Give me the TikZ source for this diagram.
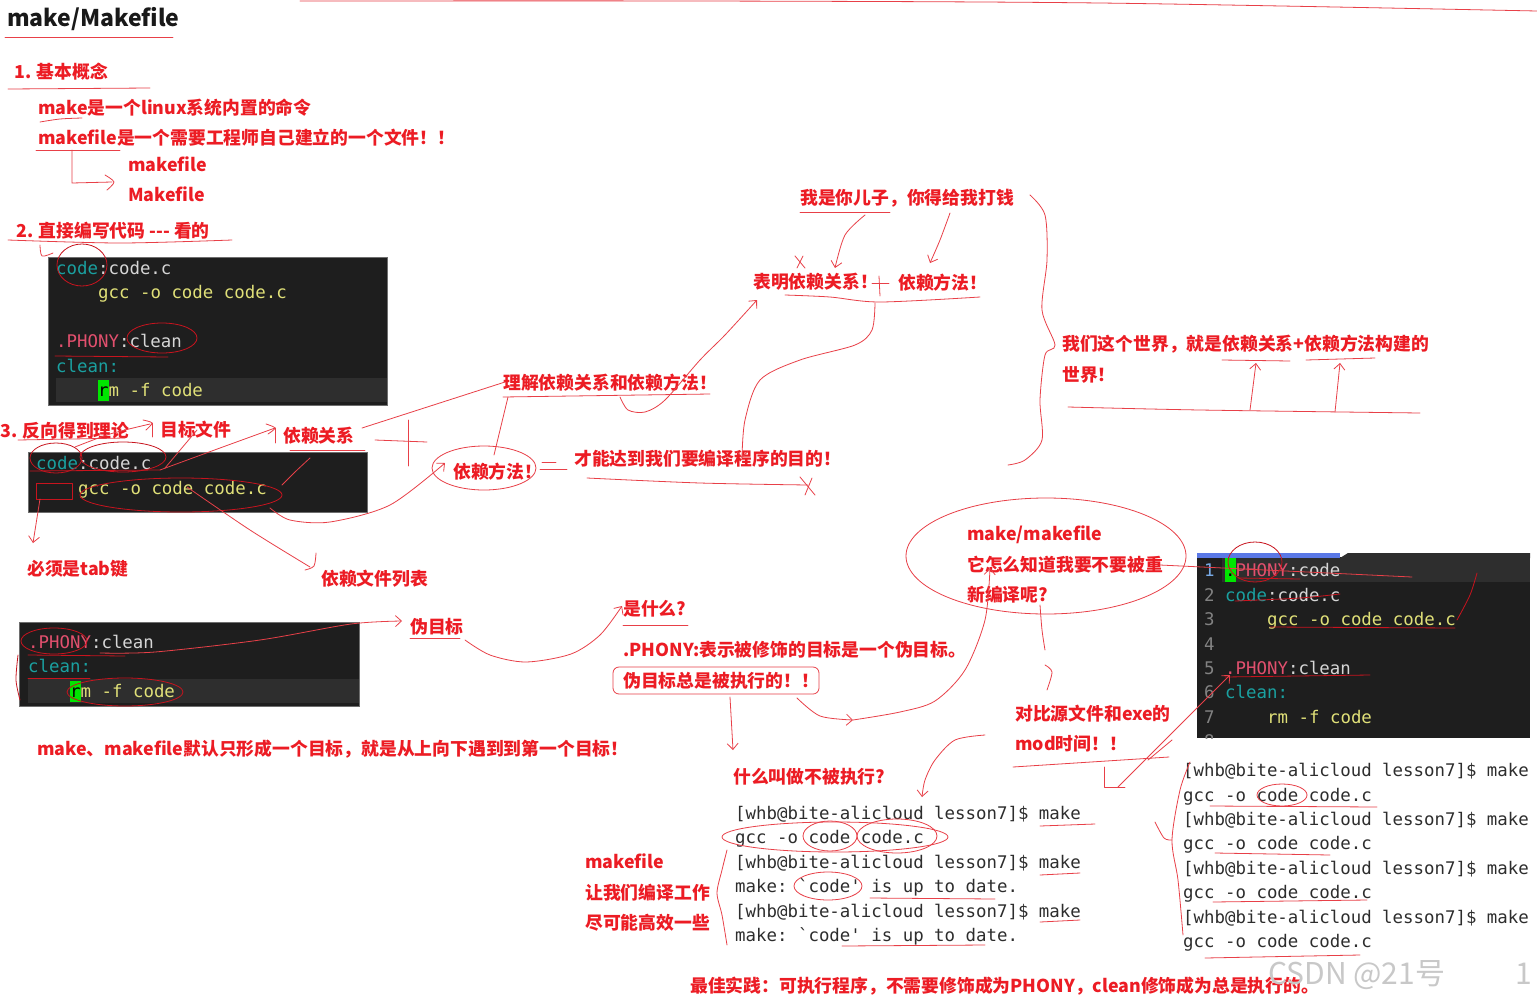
\documentclass[tikz,border=0pt]{standalone}
\usepackage{fontspec}
\setmainfont{Noto Sans CJK SC}
\setmonofont{DejaVu Sans Mono}
\newfontfamily\wmfont{Noto Sans CJK SC}
\usetikzlibrary{arrows.meta}
\definecolor{tred}{RGB}{236,28,36}
\definecolor{ink}{RGB}{232,64,72}
\definecolor{dink}{RGB}{200,20,30}
\definecolor{cbg}{RGB}{30,30,30}
\definecolor{chl}{RGB}{46,46,46}
\definecolor{cteal}{RGB}{26,160,160}
\definecolor{cwhite}{RGB}{214,214,214}
\definecolor{cyel}{RGB}{224,224,120}
\definecolor{cpink}{RGB}{226,80,110}
\definecolor{cgreen}{RGB}{0,230,0}
\definecolor{tgray}{RGB}{45,45,45}
\definecolor{lnum}{RGB}{130,130,130}
\definecolor{lnumone}{RGB}{120,170,230}
\definecolor{tabblue}{RGB}{90,120,230}
\definecolor{wmgray}{RGB}{200,200,200}
\begin{document}
\begin{tikzpicture}[x=1pt,y=-1pt,
 rt/.style={anchor=base west, inner sep=0pt, text=tred, font=\bfseries\fontsize{17.8}{20}\selectfont},
 ct/.style={anchor=base west, inner sep=0pt, font=\ttfamily\fontsize{17.4}{20}\selectfont},
 tt/.style={ct, text=tgray},
 an/.style={draw=ink, line width=0.8pt, line cap=round, line join=round},
 ar/.style={an, -{Straight Barb[length=6pt,width=11pt]}},
 cbox/.style={fill=cbg, draw={rgb,255:red,110;green,110;blue,110}, line width=0.6pt},
 hl/.style={fill=chl, draw=none},
 cur/.style={fill=cgreen, draw=none}]
\useasboundingbox (0,0) rectangle (1537,999);
\fill[white] (0,0) rectangle (1537,999);

% ---------------- texts: section 1
\node[anchor=base west, inner sep=0pt, text={rgb,255:red,25;green,25;blue,25}, font=\bfseries\fontsize{23}{27}\selectfont] (title) at (7,26) {make/Makefile};
\node[rt] (s1) at (14,78) {1. 基本概念};
\node[rt] (s1a) at (38,114) {make是一个linux系统内置的命令};
\node[rt] (s1b) at (38,144) {makefile是一个需要工程师自己建立的一个文件！！};
\node[rt] (s1c) at (128,171) {makefile};
\node[rt] (s1d) at (128,201) {Makefile};
\node[rt] (s2) at (16,237) {2. 直接编写代码 -\kern0pt-\kern0pt- 看的};

% ---------------- code box 1
\draw[cbox] (48,257) rectangle (387,405);
\fill[chl] (56,378) rectangle (387,402);
\node[ct] (b1l1) at (56,274) {\color{cteal}code\color{cwhite}:code.c};
\node[ct, text=cyel] (b1l2) at (98,298) {gcc -o code code.c};
\node[ct] (b1l4) at (56,347) {\color{cpink}.PHONY\color{cwhite}:clean};
\node[ct, text=cteal] (b1l5) at (56,372) {clean:};
\fill[cur] (98,380) rectangle (108.5,401);
\node[ct, text=cyel] (b1l6) at (98,396) {\color{black}r\color{cyel}m -f code};

% ---------------- section 3
\node[rt] (s3) at (0,437) {3. 反向得到理论};
\node[rt] (mb) at (160,436) {目标文件};
\node[rt] (yl) at (283,442) {依赖关系};
\draw[cbox] (28,452) rectangle (367,512);
\node[ct] (b2l1) at (36,469) {\color{cteal}code\color{cwhite}:code.c};
\node[ct, text=cyel] (b2l2) at (78,494) {gcc -o code code.c};
\node[rt] (tab) at (27,575) {必须是tab键};
\node[rt] (ylist) at (321,585) {依赖文件列表};

% ---------------- code box 3
\draw[cbox] (19,622) rectangle (359,706);
\fill[chl] (28,679) rectangle (359,703);
\node[ct] (b3l1) at (28,648) {\color{cpink}.PHONY\color{cwhite}:clean};
\node[ct, text=cteal] (b3l2) at (28,672) {clean:};
\fill[cur] (70,681) rectangle (80.5,702);
\node[ct, text=cyel] (b3l3) at (70,697) {\color{black}r\color{cyel}m -f code};
\node[rt] (wmb) at (410,633) {伪目标};
\node[rt] (def) at (37,755) {make、makefile默认只形成一个目标，就是从上向下遇到到第一个目标！};

% ---------------- middle texts
\node[rt] (lj) at (503,389) {理解依赖关系和依赖方法！};
\node[rt] (son) at (800,204) {我是你儿子，你得给我打钱};
\node[rt] (bm) at (753,288) {表明依赖关系！};
\node[rt] (yf) at (898,289) {依赖方法！};
\node[rt] (yf2) at (453,478) {依赖方法！};
\node[rt] (cn) at (574,465) {才能达到我们要编译程序的目的！};
\node[rt] (world1) at (1062,350) {我们这个世界，就是依赖关系+依赖方法构建的};
\node[rt] (world2) at (1062,381) {世界！};
\node[rt] (what) at (623,615) {是什么?};
\node[rt] (ph) at (623,656) {.PHONY:表示被修饰的目标是一个伪目标。};
\node[rt] (always) at (623,687) {伪目标总是被执行的！！};
\node[rt] (q1) at (967,540) {make/makefile};
\node[rt] (q2) at (967,571) {它怎么知道我要不要被重};
\node[rt] (q3) at (967,601) {新编译呢?};
\node[rt] (cmp1) at (1015,720) {对比源文件和exe的};
\node[rt] (cmp2) at (1015,750) {mod时间！！};
\node[rt] (notex) at (733,783) {什么叫做不被执行?};
\node[rt] (mk1) at (585,868) {makefile};
\node[rt] (mk2) at (585,899) {让我们编译工作};
\node[rt] (mk3) at (585,929) {尽可能高效一些};
\node[rt] (best) at (690,992) {最佳实践：可执行程序，不需要修饰成为PHONY，clean修饰成为总是执行的。};

% ---------------- terminal 1
\node[tt] (t1a) at (735,819) {[whb@bite-alicloud lesson7]\$ make};
\node[tt] (t1b) at (735,843) {gcc -o code code.c};
\node[tt] (t1c) at (735,868) {[whb@bite-alicloud lesson7]\$ make};
\node[tt] (t1d) at (735,892) {make: `code' is up to date.};
\node[tt] (t1e) at (735,917) {[whb@bite-alicloud lesson7]\$ make};
\node[tt] (t1f) at (735,941) {make: `code' is up to date.};

% ---------------- terminal 2
\node[tt] (t2a) at (1183,776) {[whb@bite-alicloud lesson7]\$ make};
\node[tt] (t2b) at (1183,801) {gcc -o code code.c};
\node[tt] (t2c) at (1183,825) {[whb@bite-alicloud lesson7]\$ make};
\node[tt] (t2d) at (1183,849) {gcc -o code code.c};
\node[tt] (t2e) at (1183,874) {[whb@bite-alicloud lesson7]\$ make};
\node[tt] (t2f) at (1183,898) {gcc -o code code.c};
\node[tt] (t2g) at (1183,923) {[whb@bite-alicloud lesson7]\$ make};
\node[tt] (t2h) at (1183,947) {gcc -o code code.c};

% ---------------- code box 4
\fill[cbg] (1197,557) rectangle (1530,738);
\fill[tabblue] (1197,553) rectangle (1340,558);
\fill[chl] (1340,558) -- (1348,553) -- (1530,553) -- (1530,558) -- cycle;
\fill[chl] (1222,558) rectangle (1530,582);
\fill[cur] (1225,558) rectangle (1235.5,582);
\node[ct, text=lnumone] (n1) at (1204,576) {1};
\node[ct, text=lnum] (n2) at (1204,601) {2};
\node[ct, text=lnum] (n3) at (1204,625) {3};
\node[ct, text=lnum] (n4) at (1204,650) {4};
\node[ct, text=lnum] (n5) at (1204,674) {5};
\node[ct, text=lnum] (n6) at (1204,698) {6};
\node[ct, text=lnum] (n7) at (1204,723) {7};
\begin{scope}
\clip (1197,557) rectangle (1530,738);
\node[ct, text=lnum] (n8) at (1204,747) {8};
\end{scope}
\node[ct] (c1) at (1225,576) {\color{black}.\color{cpink}PHONY\color{cwhite}:code};
\node[ct] (c2) at (1225,601) {\color{cteal}code\color{cwhite}:code.c};
\node[ct, text=cyel] (c3) at (1267,625) {gcc -o code code.c};
\node[ct] (c5) at (1225,674) {\color{cpink}.PHONY\color{cwhite}:clean};
\node[ct, text=cteal] (c6) at (1225,698) {clean:};
\node[ct, text=cyel] (c7) at (1267,723) {rm -f code};

% watermark
\node[anchor=base west, inner sep=0pt, text=wmgray, font=\wmfont\fontsize{30}{33}\selectfont] (wm) at (1268,984) {CSDN @21号};
\node[anchor=base west, inner sep=0pt, text=wmgray, font=\wmfont\fontsize{30}{33}\selectfont] (wm1) at (1515,984) {1};

% ================= hand annotations
\draw[an] plot[smooth] coordinates {(300,1) (700,1) (1100,3) (1537,11)};
\draw[an] (5,37) -- (173,37);
\draw[an] (8,89) -- (150,88);
\draw[an] plot[smooth] coordinates {(40,122) (60,119) (82,118)};
\draw[an] (36,150) -- (120,150);
\draw[an] (72,150) -- (72,183) -- (112,182);
\draw[an] plot[smooth] coordinates {(105,175) (114,182) (107,190)};
\draw[an] plot[smooth] coordinates {(8,240) (120,243) (232,240)};
% box 1
\draw[an, draw=dink] (82,265) ellipse [x radius=25pt, y radius=21pt];
\draw[an] plot[smooth] coordinates {(40,245) (42,256) (53,253)};
\draw[an, draw=dink] (162,338) ellipse [x radius=35pt, y radius=15pt];
\draw[an, draw=dink] (55,356) -- (168,357);
% section 3
\draw[an] (18,440) -- (125,438);
\draw[an] plot[smooth] coordinates {(75,447) (110,434) (150,424)};
\draw[an] plot[smooth] coordinates {(143,420) (152,423) (146,430)};
\draw[an] (152,423) -- (152,437);
\draw[an] (165,468) -- (197,430);
\draw[an] plot[smooth] coordinates {(160,470) (220,448) (275,428)};
\draw[an] plot[smooth] coordinates {(266,424) (275,428) (268,434)};
\draw[an] (275,428) -- (275,443);
\draw[an] (290,450) -- (365,450);
\draw[an, draw=dink] (56,458) ellipse [x radius=26pt, y radius=15pt];
\draw[an, draw=dink] (123,457) ellipse [x radius=43pt, y radius=15pt];
\draw[an, draw=dink] (30,471) -- (160,470);
\draw[an, draw=dink] (36,483) rectangle (72,499);
\draw[ar] (40,499) -- (33,543);
\draw[an, draw=dink] (181,495) ellipse [x radius=101pt, y radius=17pt];
\draw[an] plot[smooth] coordinates {(310,458) (295,472) (282,485)};
\draw[an] plot[smooth] coordinates {(187,487) (250,530) (310,567)};
\draw[an] plot[smooth] coordinates {(316,553) (314,566) (305,570)};
\draw[ar] plot[smooth] coordinates {(270,508) (290,520) (330,522) (390,505) (445,463)};
\draw[an] (362,428) -- (505,382);
\draw[an] (503,397) -- (710,394);
\draw[an] (375,440) -- (427,442);
\draw[an] (408,420) -- (408,466);
% middle
\draw[an] (800,212) -- (890,212);
\draw[ar] plot[smooth] coordinates {(865,215) (845,235) (835,268)};
\draw[ar] plot[smooth] coordinates {(950,213) (940,240) (930,263)};
\draw[an] (795,256) -- (805,268);
\draw[an] (803,256) -- (797,268);
\draw[an] (872,283) -- (889,283);
\draw[an] (879,276) -- (880,296);
\draw[an] plot[smooth] coordinates {(785,295) (830,297) (880,302) (980,297)};
\draw[ar] plot[smooth] coordinates {(875,303) (872,330) (855,345) (800,360) (760,380) (745,420) (742,458)};
\draw[an] plot[smooth] coordinates {(587,478) (700,483) (808,485)};
\draw[an] (800,477) -- (815,495);
\draw[an] (812,478) -- (805,495);
\draw[ar] plot[smooth] coordinates {(620,397) (628,410) (645,412) (665,400) (700,360) (725,335) (757,300)};
\draw[an] (508,397) -- (494,455);
\draw[an] (484,468) ellipse [x radius=52pt, y radius=22pt];
\draw[an] (542,462) -- (556,462);
\draw[an] (540,469) -- (567,469);
\draw[an] plot[smooth] coordinates {(1030,195) (1045,215) (1047,260) (1042,310) (1055,345) (1045,355) (1040,400) (1042,440) (1025,460) (1008,465)};
\draw[an] (1222,360) -- (1290,361);
\draw[an] (1306,360) -- (1375,358);
\draw[an] plot[smooth] coordinates {(1068,407) (1200,410) (1420,413)};
\draw[ar] (1250,410) -- (1256,363);
\draw[ar] (1335,412) -- (1340,363);
% right
\draw[an] (1046,556) ellipse [x radius=140pt, y radius=58pt];
\draw[an] (1160,565) -- (1412,577);
\draw[an, draw=dink] (1255,562) ellipse [x radius=27pt, y radius=20pt];
\draw[an, draw=dink] (1238,578) -- (1300,579);
\draw[an, draw=dink] plot[smooth] coordinates {(1235,601) (1300,598) (1340,594)};
\draw[an, draw=dink] (1270,627) -- (1455,628);
\draw[an, draw=dink] (1225,677) -- (1370,675);
\draw[an, draw=dink] plot[smooth] coordinates {(1457,620) (1470,595) (1477,573)};
\draw[an] plot[smooth] coordinates {(1040,605) (1042,630) (1045,650)};
\draw[an] plot[smooth] coordinates {(1045,665) (1052,672) (1047,690)};
\draw[ar] plot[smooth] coordinates {(797,698) (820,716) (853,720)};
\draw[ar] plot[smooth] coordinates {(853,720) (900,712) (935,701) (965,670) (985,620) (990,568)};
\draw[ar] (730,697) -- (733,750);
\draw[ar] plot[smooth] coordinates {(465,640) (490,655) (526,662) (571,654) (600,635) (622,606)};
\draw[an] (623,625) -- (688,625);
\draw[ar] plot[smooth] coordinates {(100,653) (155,652) (260,640) (351,624) (402,621)};
\draw[an] (410,638) -- (460,638);
\draw[an, draw=dink] (54,641) ellipse [x radius=33pt, y radius=13pt];
\draw[an, draw=dink] (125,692) ellipse [x radius=58pt, y radius=14pt];
\draw[an, draw=dink] (28,655) -- (125,656);
\draw[an, draw=dink] (28,678) -- (90,678);
\draw[an, draw=dink] plot[smooth] coordinates {(18,655) (16,680) (20,700)};
\draw[an, rounded corners=6pt] (613,667) rectangle (819,694);
% bottom
\draw[an] (1013,767) -- (1169,757);
\draw[an] (1104,767) -- (1104,787) -- (1125,787);
\draw[ar] plot[smooth] coordinates {(1118,787) (1165,740) (1230,675)};
\draw[an] (1172,740) -- (1148,760);
\draw[ar] plot[smooth] coordinates {(985,735) (955,740) (935,760) (925,780) (922,797)};
\draw[an] plot[smooth] coordinates {(727,850) (722,870) (717,893) (722,915) (727,945)};
\draw[an] (835,837) ellipse [x radius=113pt, y radius=15pt];
\draw[an] (830,836) ellipse [x radius=27pt, y radius=15pt];
\draw[an] (897,836) ellipse [x radius=40pt, y radius=17pt];
\draw[an] (1040,826) -- (1095,824);
\draw[an] (1040,875) -- (1080,873);
\draw[an] (1040,922) -- (1080,920);
\draw[an] (828,886) ellipse [x radius=34pt, y radius=14pt];
\draw[an] (870,898) -- (995,899);
\draw[an] (842,946) -- (985,945);
\draw[an] plot[smooth] coordinates {(1190,762) (1180,790) (1172,840) (1178,880) (1183,935)};
\draw[an] plot[smooth] coordinates {(1155,822) (1164,838) (1172,840)};
\draw[an] (1282,795) ellipse [x radius=25pt, y radius=11pt];
\draw[an] (1210,806) -- (1377,807);
\draw[an] (1215,853) -- (1330,855);
\draw[an] (1213,902) -- (1367,900);
\draw[an] (1205,958) -- (1360,955);
\end{tikzpicture}
\end{document}
